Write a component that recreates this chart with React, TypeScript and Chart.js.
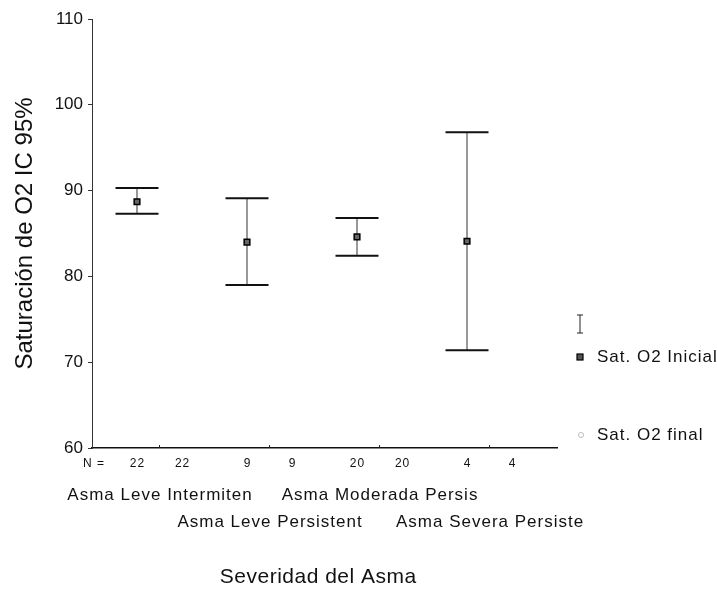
import React, { useEffect, useRef } from "react";
import { Chart, registerables } from "chart.js";

Chart.register(...registerables);

// ---- data ----
const categories = [
  "Asma Leve Intermiten",
  "Asma Leve Persistent",
  "Asma Moderada Persis",
  "Asma Severa Persiste",
];
const seriesNames = ["Sat. O2 Inicial", "Sat. O2 final"];
const nInicial = [22, 9, 20, 4];
const nFinal = [22, 9, 20, 4];
const inicialMean = [88.7, 84.0, 84.6, 84.1];
const inicialLower = [87.3, 79.0, 82.4, 71.4];
const inicialUpper = [90.3, 89.1, 86.8, 96.8];
const yTicks = [60, 70, 80, 90, 100, 110];
const xTitle = "Severidad del Asma";
const yTitle = "Saturación de O2 IC 95%";

const FONT = "'Liberation Sans', Arial, sans-serif";
const FINAL_OFFSET = 0.41;

const groupX = (i: number) => i + 1;

function spacedText(ctx: any, text: string, x: number, y: number, spacing: number, align: string) {
  ctx.letterSpacing = `${spacing}px`;
  const w = ctx.measureText(text).width - spacing;
  let left = x;
  if (align === "center") left = x - w / 2;
  else if (align === "right") left = x - w;
  ctx.textAlign = "left";
  ctx.fillText(text, left, y);
  ctx.letterSpacing = "0px";
}

const errorBarPlugin = {
  id: "errorBars",
  beforeDatasetsDraw(chart: any) {
    const { ctx, scales } = chart;
    const xs = scales.x;
    const ys = scales.y;
    ctx.save();
    inicialMean.forEach((_, i) => {
      const x = xs.getPixelForValue(groupX(i));
      const yl = ys.getPixelForValue(inicialLower[i]);
      const yh = ys.getPixelForValue(inicialUpper[i]);
      ctx.strokeStyle = "#333";
      ctx.lineWidth = 1;
      ctx.beginPath();
      ctx.moveTo(x, yl);
      ctx.lineTo(x, yh);
      ctx.stroke();
      ctx.strokeStyle = "#111";
      ctx.lineWidth = 2;
      ctx.beginPath();
      ctx.moveTo(x - 21.5, yl);
      ctx.lineTo(x + 21.5, yl);
      ctx.moveTo(x - 21.5, yh);
      ctx.lineTo(x + 21.5, yh);
      ctx.stroke();
    });
    ctx.restore();
  },
  afterDraw(chart: any) {
    const { ctx, scales, chartArea } = chart;
    const xs = scales.x;
    ctx.save();
    ctx.fillStyle = "#111";
    ctx.textBaseline = "middle";

    // small ticks at group centres
    ctx.strokeStyle = "#222";
    ctx.lineWidth = 1;
    categories.forEach((_, i) => {
      const cx = xs.getPixelForValue(groupX(i) + FINAL_OFFSET / 2);
      ctx.beginPath();
      ctx.moveTo(cx, chartArea.bottom);
      ctx.lineTo(cx, chartArea.bottom - 3);
      ctx.stroke();
    });

    // N row
    ctx.font = `12px ${FONT}`;
    spacedText(ctx, "N =", 83, 464, 1, "left");
    categories.forEach((_, i) => {
      spacedText(ctx, String(nInicial[i]), xs.getPixelForValue(groupX(i)), 464, 1, "center");
      spacedText(ctx, String(nFinal[i]), xs.getPixelForValue(groupX(i) + FINAL_OFFSET), 464, 1, "center");
    });

    // category labels (staggered)
    ctx.font = `17px ${FONT}`;
    categories.forEach((c, i) => {
      const cx = xs.getPixelForValue(groupX(i) + FINAL_OFFSET / 2);
      spacedText(ctx, c, cx, i % 2 === 0 ? 495 : 522, 1, "center");
    });

    // x title
    ctx.font = `21px ${FONT}`;
    spacedText(ctx, xTitle, 318, 577, 0.5, "center");

    // legend
    const lx = 580;
    ctx.strokeStyle = "#222";
    ctx.lineWidth = 1;
    ctx.beginPath();
    ctx.moveTo(lx, 315);
    ctx.lineTo(lx, 333);
    ctx.moveTo(lx - 3, 315);
    ctx.lineTo(lx + 3, 315);
    ctx.moveTo(lx - 3, 333);
    ctx.lineTo(lx + 3, 333);
    ctx.stroke();

    ctx.fillStyle = "#555";
    ctx.fillRect(lx - 3, 354, 6, 6);
    ctx.strokeStyle = "#000";
    ctx.lineWidth = 1.2;
    ctx.strokeRect(lx - 3, 354, 6, 6);

    ctx.strokeStyle = "#bbb";
    ctx.lineWidth = 1;
    ctx.beginPath();
    ctx.arc(lx + 1, 435, 2.5, 0, Math.PI * 2);
    ctx.stroke();

    ctx.fillStyle = "#111";
    ctx.font = `17px ${FONT}`;
    spacedText(ctx, seriesNames[0], 597, 357, 1, "left");
    spacedText(ctx, seriesNames[1], 597, 435, 1, "left");
    ctx.restore();
  },
};

export default function App() {
  const ref = useRef<HTMLCanvasElement | null>(null);
  useEffect(() => {
    if (!ref.current) return;
    const chart = new Chart(ref.current, {
      type: "scatter",
      data: {
        datasets: [
          {
            label: seriesNames[0],
            data: inicialMean.map((v, i) => ({ x: groupX(i), y: v })),
            pointStyle: "rect",
            pointRadius: 4,
            backgroundColor: "#666",
            borderColor: "#000",
            borderWidth: 1.5,
          },
        ],
      },
      options: {
        animation: false,
        responsive: false,
        layout: { padding: { top: 19, right: 160, bottom: 141, left: 0 } },
        plugins: { legend: { display: false }, tooltip: { enabled: false } },
        scales: {
          x: {
            type: "linear",
            min: 0.591,
            max: 4.818,
            ticks: { display: false },
            grid: { display: false, drawTicks: false },
            border: { display: true, color: "#111", width: 1.5 },
          },
          y: {
            type: "linear",
            min: 60,
            max: 110,
            afterBuildTicks: (scale: any) => {
              scale.ticks = yTicks.map((v) => ({ value: v }));
            },
            afterFit: (scale: any) => {
              scale.width = 92;
            },
            ticks: {
              color: "#111",
              font: { family: FONT, size: 17 },
              padding: 5,
            },
            grid: { drawOnChartArea: false, drawTicks: true, tickLength: 4, color: "#333" },
            border: { display: true, color: "#333", width: 1 },
            title: {
              display: true,
              text: yTitle,
              color: "#111",
              font: { family: FONT, size: 24 },
              padding: { top: 11, bottom: 0 },
            },
          },
        },
      },
      plugins: [errorBarPlugin],
    });
    return () => chart.destroy();
  }, []);
  return (
    <div style={{ position: "absolute", left: 0, top: 0, width: 717, height: 589, background: "#fff" }}>
      <canvas ref={ref} width={717} height={589} />
    </div>
  );
}
